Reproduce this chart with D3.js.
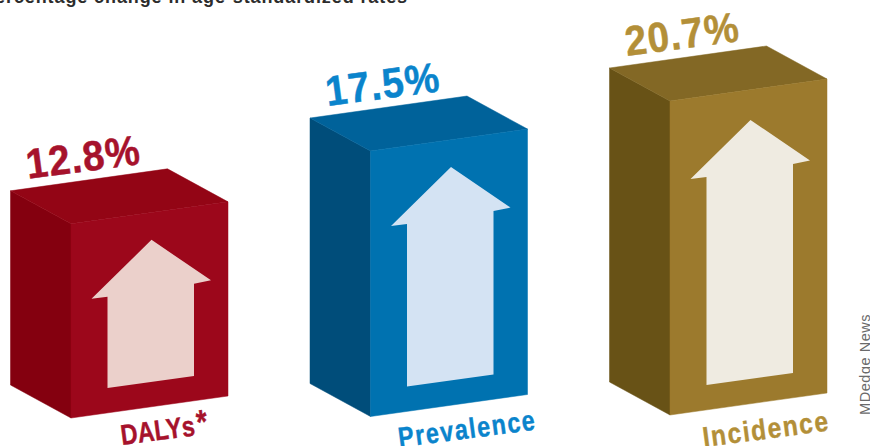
<!DOCTYPE html>
<html>
<head>
<meta charset="utf-8">
<style>
  html, body { margin: 0; padding: 0; background: #fff; }
  svg { display: block; }
  text { font-family: "Liberation Sans", Arial, sans-serif; }
</style>
<script src="https://cdn.jsdelivr.net/npm/d3@7"></script>
</head>
<body>
<svg id="chart" width="870" height="446"></svg>
<script>
// Values and labels
const categories = ["DALYs", "Prevalence", "Incidence"];
const footnoteMarks = ["*", "", ""];
const values = [12.8, 17.5, 20.7];
const valueLabels = ["12.8%", "17.5%", "20.7%"];
const titleText = "Percentage change in age-standardized rates";
const creditText = "MDedge News";

// Palette per block
const frontColors = ["#9c071b", "#0072b0", "#9c7a2d"];
const sideColors = ["#84000f", "#004d7a", "#685216"];
const topColors = ["#930515", "#00629a", "#836825"];
const arrowColors = ["#ebd0cb", "#d4e3f3", "#efebe1"];
const textColors = ["#a6122c", "#0a84cc", "#b38f38"];

const svg = d3.select("#chart");

// Block heights are proportional to the value, measured from zero
const height = d3.scaleLinear().domain([0, 20.7]).range([0, 314]);
// Front-bottom corner of each block
const x = d3.scalePoint().domain(categories).range([71, 670]);
const floor = d3.scalePoint().domain(categories).range([418, 415]);

// Oblique projection offsets
const depth = { dx: -60.5, dy: -33 };
const width = { dx: 157, dy: -22 };

const line = pts => d3.line()(pts) + "Z";

const blocks = svg.selectAll("g.block")
  .data(categories.map((c, i) => ({ c, i, v: values[i] })))
  .join("g").attr("class", "block");

blocks.each(function (d) {
  const g = d3.select(this);
  const i = d.i;
  const h = height(d.v);
  const x0 = x(d.c), y0 = floor(d.c);
  const FB = [x0, y0];
  const FT = [x0, y0 - h];
  const RB = [x0 + width.dx, y0 + width.dy];
  const RT = [RB[0], RB[1] - h];
  const LB = [x0 + depth.dx, y0 + depth.dy];
  const LT = [LB[0], LB[1] - h];
  const BT = [LT[0] + width.dx, LT[1] + width.dy];

  // Faces share a hairline of their own colour so no seam shows between them
  const face = (pts, color) => g.append("path")
    .attr("d", line(pts))
    .attr("fill", color)
    .attr("stroke", color)
    .attr("stroke-width", 0.5);
  face([LT, FT, FB, LB], sideColors[i]);
  face([LT, BT, RT, FT], topColors[i]);
  face([FT, RT, RB, FB], frontColors[i]);

  // Arrow sits on the front face and follows its slant
  const slope = width.dy / width.dx;
  const ax = x0 + 36.5, bx = x0 + 123, ay = y0 - 30;
  const by = ay + (bx - ax) * slope;
  const tipX = x0 + 80.5, tipY = FT[1] + 16 + (d.i === 2 ? 3 : 0);
  const shoulder = tipY + 59;
  const arrow = [
    [tipX, tipY],
    [x0 + 140, shoulder - 18.5],
    [bx, shoulder - 15],
    [bx, by],
    [ax, ay],
    [ax, shoulder - 2],
    [x0 + 20.5, shoulder]
  ];
  g.append("path").attr("d", line(arrow)).attr("fill", arrowColors[i]);

  // Value above the block, running along the top edge, set condensed
  g.append("text")
    .attr("transform", `translate(${LT[0] + 17.5},${LT[1] - 12}) rotate(-7.5) scale(0.92,1)`)
    .attr("font-size", 42)
    .attr("font-weight", 700)
    .attr("letter-spacing", 1.2)
    .attr("fill", textColors[i])
    .attr("stroke", textColors[i])
    .attr("stroke-width", 0.5)
    .text(valueLabels[i]);

  // Category name under the front face, set condensed
  const labelDx = [51, 29, 34][i];
  const labelDy = [27, 31, 32][i];
  const label = g.append("text")
    .attr("transform", `translate(${x0 + labelDx},${y0 + labelDy}) rotate(-7.5) scale(${[0.82, 0.82, 0.86][i]},1)`)
    .attr("font-size", 28.5)
    .attr("font-weight", 700)
    .attr("letter-spacing", [0, 1.9, 1.9][i])
    .attr("fill", textColors[i])
    .attr("stroke", textColors[i])
    .attr("stroke-width", 0.4)
    .text(d.c);
  if (footnoteMarks[i]) {
    label.append("tspan")
      .attr("dx", 3)
      .attr("dy", -1)
      .attr("font-size", 34)
      .text(footnoteMarks[i]);
  }
});

// Heading, running off the top edge
svg.append("text")
  .attr("x", 408).attr("y", 3)
  .attr("text-anchor", "end")
  .attr("font-size", 18)
  .attr("font-weight", 700)
  .attr("letter-spacing", 0.9)
  .attr("fill", "#2c2c2c")
  .text(titleText);

// Vertical credit line
svg.append("text")
  .attr("transform", "translate(870,415) rotate(-90)")
  .attr("font-size", 14.5)
  .attr("letter-spacing", 0.55)
  .attr("fill", "#6a6a6a")
  .text(creditText);
</script>
</body>
</html>
